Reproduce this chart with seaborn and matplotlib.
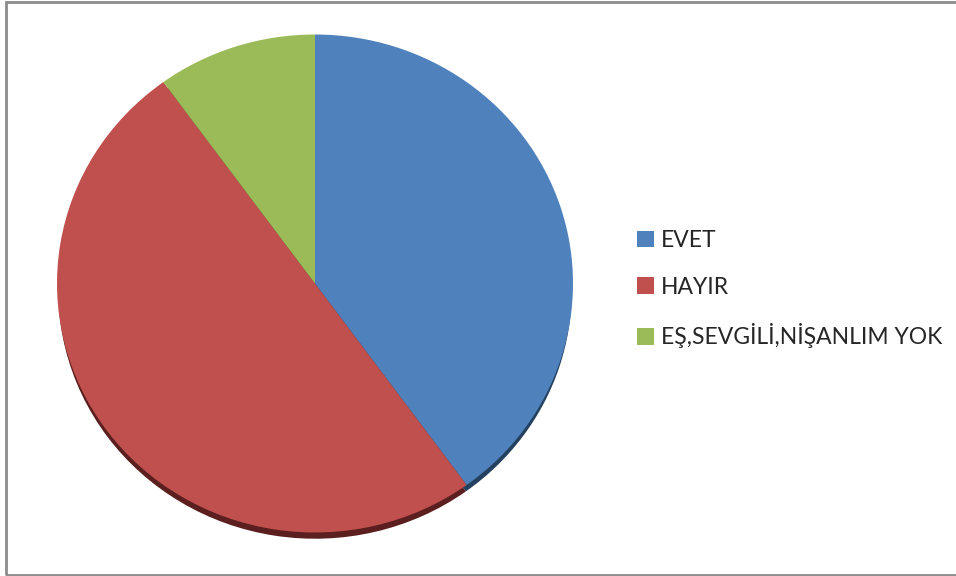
import matplotlib
matplotlib.use("Agg")
import matplotlib.pyplot as plt
from matplotlib.patches import Rectangle
import seaborn as sns

categories = ["EVET", "HAYIR", "EŞ,SEVGİLİ,NİŞANLIM YOK"]
values = [40, 50, 10]
colors = ["#4F81BD", "#C0504D", "#9BBB59"]
shade_colors = ["#24405F", "#5A1F1E", "#4A5E28"]

sns.set_theme(style="white")
plt.rcParams["font.family"] = ["Lato", "DejaVu Sans"]

W, H = 956, 576
fig = plt.figure(figsize=(W / 100, H / 100), dpi=100)
fig.patch.set_facecolor("white")

# pie area: centre (315, 283) from top, radii 258 x 249 px
cx, cy, rx, ry = 315, 283.5, 258, 249
ax = fig.add_axes([(cx - rx) / W, (H - cy - ry) / H, 2 * rx / W, 2 * ry / H])
ax.set_xlim(-1, 1)
ax.set_ylim(-1, 1)

# thickness rim under the top face
ax.pie(values, colors=shade_colors, startangle=90, counterclock=False,
       radius=0.995, center=(0, -0.03), frame=True,
       wedgeprops=dict(linewidth=0, zorder=1))
wedges, _ = ax.pie(values, colors=colors, startangle=90, counterclock=False,
                   radius=1, center=(0, 0), frame=True,
                   wedgeprops=dict(linewidth=0, zorder=2))
ax.set_aspect("auto")
ax.set_xlim(-1, 1)
ax.set_ylim(-1, 1)
ax.axis("off")
for p in ax.patches:
    p.set_clip_on(False)

fig.legend(wedges, categories, loc="upper left",
           bbox_to_anchor=(637 / W, (H - 230) / H),
           frameon=False, fontsize=16.5, handlelength=0.75, handleheight=0.75,
           handletextpad=0.3, labelspacing=1.12, borderpad=0, borderaxespad=0)

# outer chart border
fig.add_artist(Rectangle((6 / W, 1.5 / H), (W + 10) / W, (H - 3.5) / H,
                         transform=fig.transFigure, fill=False,
                         edgecolor="#8C8C8C", linewidth=2, clip_on=False))

fig.savefig("out.png", dpi=100)
